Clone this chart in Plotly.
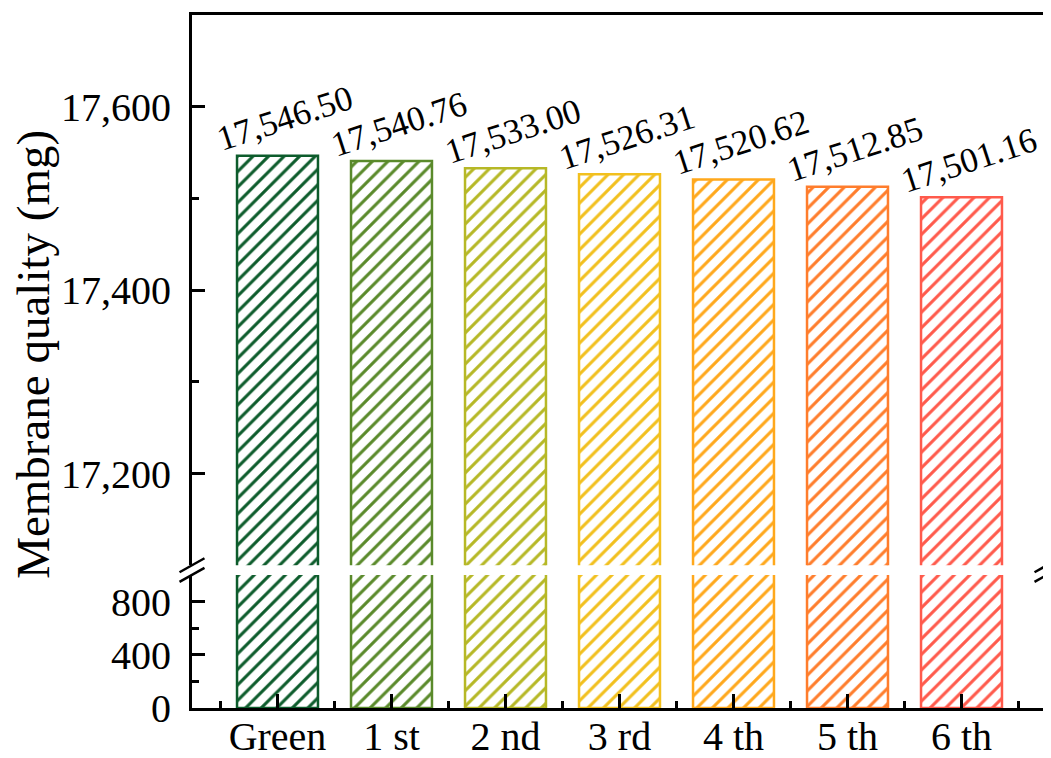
import numpy as np
import plotly.graph_objects as go

categories = ["Green", "1 st", "2 nd", "3 rd", "4 th", "5 th", "6 th"]
values = [17546.50, 17540.76, 17533.00, 17526.31, 17520.62, 17512.85, 17501.16]
colors = ["#0d5c2c", "#5a8a2b", "#b6b826", "#f2c01e", "#ffa81c", "#ff7d2c", "#ff5a4c"]
upper_ticks = [17200, 17400, 17600]
lower_ticks = [0, 400, 800]

FONT = "Liberation Serif, Times New Roman, serif"
xpos = np.arange(len(categories))

fig = go.Figure()

common = dict(
    x=xpos, y=values, width=0.71,
    marker=dict(
        color="white",
        line=dict(color=colors, width=2.5),
        pattern=dict(shape="/", fgcolor=colors, bgcolor="white",
                     size=11, solidity=0.28, fillmode="replace"),
    ),
    showlegend=False, hoverinfo="skip",
)
fig.add_trace(go.Bar(xaxis="x", yaxis="y", **common))
fig.add_trace(go.Bar(xaxis="x2", yaxis="y2", **common))

for i, v in enumerate(values):
    fig.add_annotation(
        x=xpos[i], y=v, xref="x2", yref="y2",
        text=f"{v:,.2f}", showarrow=False, textangle=-18,
        xanchor="center", yanchor="middle", xshift=7, yshift=37,
        font=dict(family=FONT, size=35, color="black"),
    )

low_top, up_bot = 0.192, 0.206
axis_font = dict(family=FONT, size=40, color="black")

fig.update_layout(
    width=1043, height=750,
    margin=dict(l=184, r=4, t=7, b=50, autoexpand=False),
    paper_bgcolor="white", plot_bgcolor="white",
    xaxis=dict(
        domain=[0, 1], anchor="y", range=[-0.75, 6.75], automargin=False,
        tickvals=xpos, ticktext=categories,
        tickfont=dict(family=FONT, size=40, color="black"),
        ticks="inside", ticklen=14, tickwidth=2.5, tickcolor="black",
        minor=dict(tickvals=(xpos[:-1] + 0.5).tolist() + [-0.5, 6.5],
                   ticks="inside", ticklen=7, tickwidth=2.5, tickcolor="black"),
        showline=True, linewidth=3, linecolor="black", showgrid=False,
        zeroline=False, ticklabelstandoff=-9,
    ),
    xaxis2=dict(
        domain=[0, 1], anchor="y2", matches="x", side="top", automargin=False,
        showticklabels=False, ticks="", showline=True, linewidth=3,
        linecolor="black", showgrid=False, zeroline=False,
    ),
    yaxis=dict(
        domain=[0, low_top], range=[0, 1000], tickvals=lower_ticks,
        tickformat=",d", tickfont=axis_font, automargin=False,
        ticks="inside", ticklen=13, tickwidth=2.5, tickcolor="black",
        minor=dict(tickvals=[200, 600], ticks="inside", ticklen=7,
                   tickwidth=2.5, tickcolor="black"),
        showline=True, linewidth=3, linecolor="black", mirror=True,
        showgrid=False, zeroline=False, ticklabelstandoff=10,
    ),
    yaxis2=dict(
        domain=[up_bot, 1], range=[17100, 17700], tickvals=upper_ticks,
        tickformat=",d", tickfont=axis_font, automargin=False,
        ticks="inside", ticklen=13, tickwidth=2.5, tickcolor="black",
        minor=dict(tickvals=[17300, 17500], ticks="inside", ticklen=7,
                   tickwidth=2.5, tickcolor="black"),
        showline=True, linewidth=3, linecolor="black", mirror=True,
        showgrid=False, zeroline=False, ticklabelstandoff=10,
    ),
)

# y-axis title spanning both panels
fig.add_annotation(
    text="Membrane quality (mg)", xref="paper", yref="paper",
    x=-0.186, y=0.511, textangle=-90, showarrow=False,
    xanchor="center", yanchor="middle",
    font=dict(family=FONT, size=47, color="black"),
)

# axis break marks
dx, dy = 0.0146, 0.0101
for xc in (0, 1):
    for yc in (low_top, up_bot):
        fig.add_shape(type="line", xref="paper", yref="paper",
                      x0=xc - dx, y0=yc - dy, x1=xc + dx, y1=yc + dy,
                      line=dict(color="black", width=2.5))

fig.write_html("out.html")
